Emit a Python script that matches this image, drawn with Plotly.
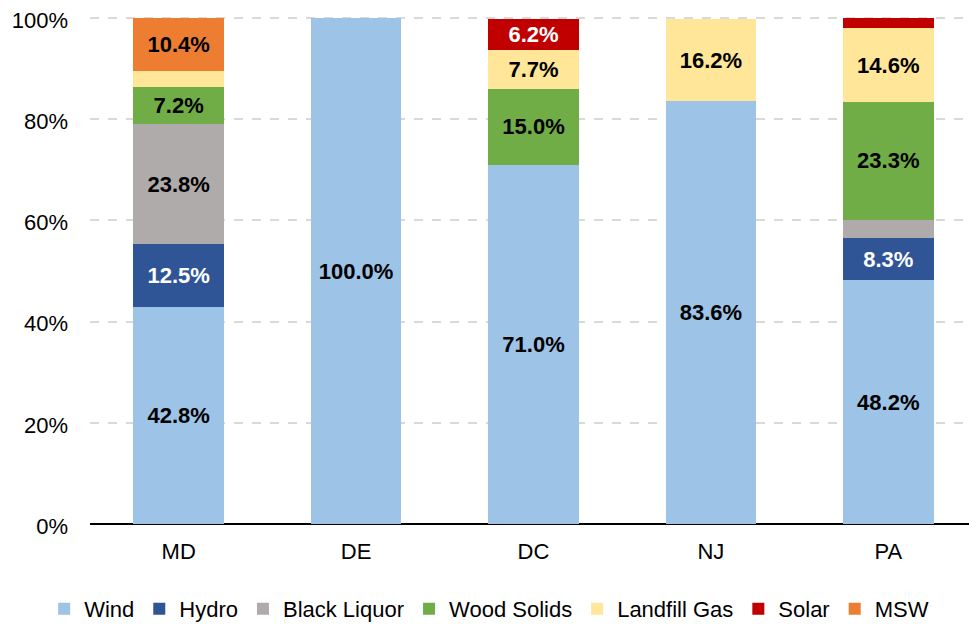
"""Renewable generation mix by state (stacked 100% bars)
"""
import plotly.graph_objects as go

states = ["MD", "DE", "DC", "NJ", "PA"]

wind = [42.8, 100.0, 71.0, 83.6, 48.2]
hydro = [12.5, 0, 0, 0, 8.3]
black_liquor = [23.8, 0, 0, 0, 3.6]
wood_solids = [7.2, 0, 15.0, 0, 23.3]
landfill_gas = [3.3, 0, 7.7, 16.2, 14.6]
solar = [0, 0, 6.2, 0, 2.0]
msw = [10.4, 0, 0, 0, 0]

ytick_vals = [0, 20, 40, 60, 80, 100]
ytick_text = ["0%", "20%", "40%", "60%", "80%", "100%"]

# segments too small to carry a label in the original chart
min_label = 5.0

series = [
    ("Wind", wind, "#9DC3E6", "black"),
    ("Hydro", hydro, "#2F5597", "white"),
    ("Black Liquor", black_liquor, "#AFABAB", "black"),
    ("Wood Solids", wood_solids, "#70AD47", "black"),
    ("Landfill Gas", landfill_gas, "#FFE699", "black"),
    ("Solar", solar, "#C00000", "white"),
    ("MSW", msw, "#ED7D31", "black"),
]

fig = go.Figure()
for name, vals, color, tcolor in series:
    labels = ["{:.1f}%".format(v) if v >= min_label else "" for v in vals]
    fig.add_trace(go.Bar(
        x=states, y=vals, name=name,
        marker=dict(color=color, line=dict(width=0)),
        text=labels, textposition="inside", insidetextanchor="middle",
        textangle=0,
        textfont=dict(family="Liberation Sans", size=22, color=tcolor,
                      weight="bold"),
    ))

# page body keeps its default 8px margin, so the figure is 8px smaller.
# y range goes a bit past 100 so the 100% gridline is still drawn
fig.update_layout(
    barmode="stack",
    bargap=0.49,
    width=969, height=616,
    margin=dict(l=82, r=0, t=5, b=100, autoexpand=False),
    plot_bgcolor="white",
    paper_bgcolor="white",
    font=dict(family="Liberation Sans", size=22, color="black"),
    uniformtext=dict(minsize=22, mode="show"),
    legend=dict(orientation="h", x=0.45, xanchor="center", y=-0.166,
                yanchor="middle", font=dict(size=22),
                itemwidth=30, tracegroupgap=0, traceorder="normal"),
)
fig.update_xaxes(showline=False, ticks="", tickfont=dict(size=22),
                 ticklabelstandoff=12, automargin=False)
fig.update_yaxes(
    range=[0, 101], tickmode="array", tickvals=ytick_vals,
    ticktext=ytick_text, ticklabeloverflow="allow", automargin=False,
    showgrid=True, gridcolor="#D9D9D9", griddash="dash", gridwidth=2,
    zeroline=True, zerolinecolor="black", zerolinewidth=2,
    ticklabelstandoff=21, ticklabelshift=2, tickfont=dict(size=22),
)

fig.write_html("out.html")
